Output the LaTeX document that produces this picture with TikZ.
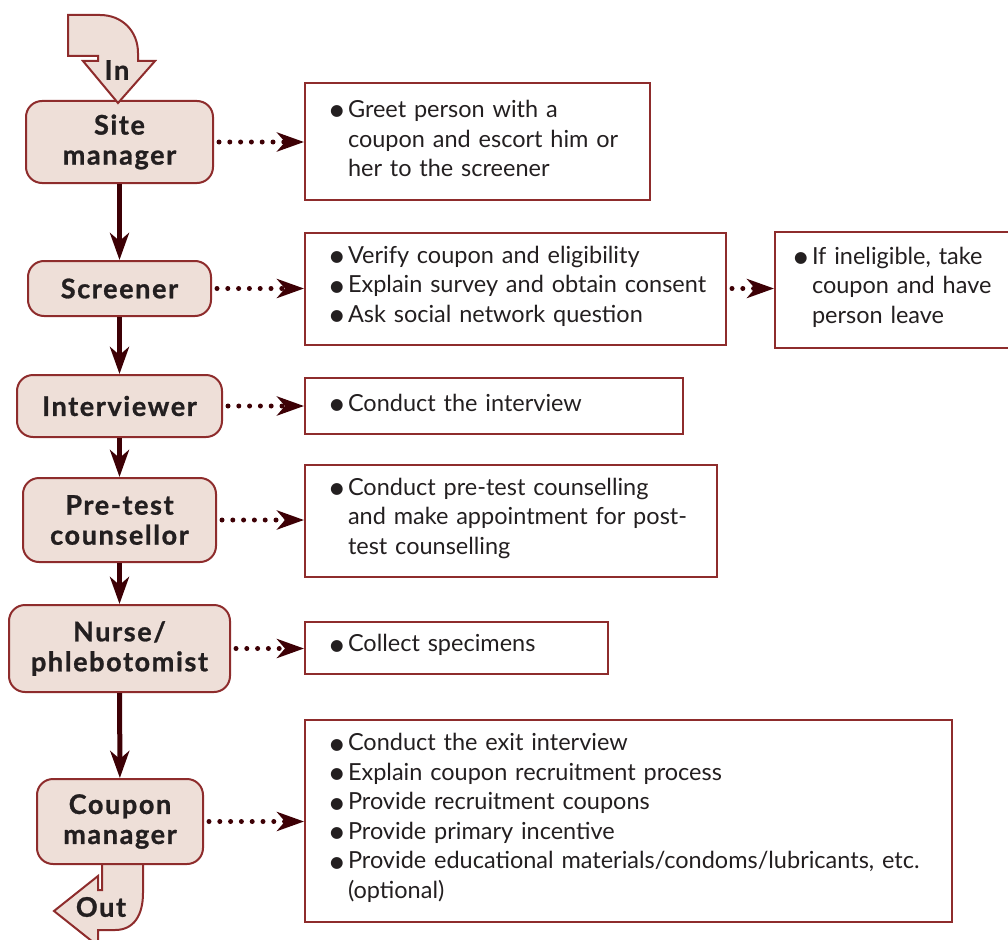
\documentclass[tikz,border=0pt]{standalone}
\usepackage{fontspec}
\setmainfont{Lato}
\newfontfamily\labelfont{Lato}[BoldFeatures={FakeBold=1}, LetterSpace=6]
\newfontfamily\symfont{DejaVu Sans}
\usetikzlibrary{arrows.meta}

\definecolor{boxfill}{HTML}{EEDFD8}
\definecolor{boxred}{HTML}{8E2C2C}
\definecolor{flowdark}{HTML}{3D0005}
\definecolor{inktext}{HTML}{231F20}

% filled round bullet for the task lists
\newcommand\itembul{\raisebox{1.6pt}{\symfont\fontsize{15.5}{15.5}\selectfont ●}}
% first line of a bulleted item, and its continuation lines
\newcommand\bitem[2][25pt]{\hspace*{#1}\makebox[18pt][l]{\itembul}\mbox{#2}}
\newcommand\bcont[2][43pt]{\hspace*{#1}\mbox{#2}}
% a little room under the last line lifts the lines inside their box
\newcommand\liftlines{\par\vspace*{6pt}}

\tikzset{
  role/.style={draw=boxred, line width=2pt, fill=boxfill, rounded corners=16pt,
    inner sep=0pt, align=center, text=inktext,
    font=\labelfont\bfseries\fontsize{27}{30}\selectfont},
  taskbox/.style={draw=boxred, line width=2pt, rectangle, inner xsep=0pt,
    inner ysep=0pt, align=left, text=inktext,
    font=\fontsize{23.5}{29.5}\selectfont},
  flowarrow/.style={draw=flowdark, line width=5pt,
    -{Stealth[length=27pt,width=19pt,inset=8pt]}, fill=flowdark},
  dotarrow/.style={draw=flowdark, line width=5pt, line cap=round,
    dash pattern=on 0pt off 10.8pt, shorten <=5pt,
    -{Stealth[length=27pt,width=19pt,inset=8pt]}},
  bendarrow/.style={draw=boxred, line width=2pt, fill=boxfill, line join=miter},
  arrowlabel/.style={text=inktext, font=\labelfont\bfseries\fontsize{27}{30}\selectfont}
}

\begin{document}
\begin{tikzpicture}[x=1pt, y=-1pt]
\useasboundingbox (0,0) rectangle (1008,939);
\clip (0,0) rectangle (1008,939);

% exit arrow leaving the last station (drawn under the box)
\draw[bendarrow] (102,860) -- (102,890) -- (98,890) -- (98,876) -- (54,911)
  -- (98,946) -- (98,930) -- (115,930)
  .. controls (134,930) and (143,915) .. (143,893) -- (143,860);
\node[arrowlabel] (outlbl) at (101,907) {Out};

% stations of the survey site
\node[role, minimum width=187pt, minimum height=82pt] (sm) at (119.5,142) {Site\\manager};
\node[role, minimum width=183pt, minimum height=55pt] (scr) at (119.5,288.5) {Screener};
\node[role, minimum width=205pt, minimum height=62pt] (int) at (119.5,406) {Interviewer};
\node[role, minimum width=193pt, minimum height=84pt] (pre) at (119.5,520) {Pre-test\\counsellor};
\node[role, minimum width=221pt, minimum height=87pt] (nur) at (119.5,648.5) {Nurse/\\phlebotomist};
\node[role, minimum width=166pt, minimum height=85pt] (cpm) at (120,821.5) {Coupon\\manager};

% entry arrow
\draw[bendarrow] (68,15) -- (100,15) .. controls (122,15) and (138,31) .. (138,53)
  -- (138,61) -- (155,61) -- (118,103) -- (83,61) -- (98,61) -- (98,56)
  -- (68,56) -- cycle;
\node[arrowlabel] (inlbl) at (117,70) {In};

% tasks at each station
\node[taskbox, text width=345pt, minimum height=117pt] (b1) at (477.5,141.5)
  {\bitem{Greet person with a}\\\bcont{coupon and escort him or}\\\bcont{her to the screener}\liftlines};
\node[taskbox, text width=421pt, minimum height=112pt] (b2) at (515.5,289)
  {\bitem{Verify coupon and eligibility}\\\bitem{Explain survey and obtain consent}\\\bitem{Ask social network question}\liftlines};
\node[taskbox, text width=240pt, minimum height=116pt] (b3) at (895,290)
  {\bitem[19pt]{If ineligible, take}\\\bcont[37pt]{coupon and have}\\\bcont[37pt]{person leave}\liftlines};
\node[taskbox, text width=378pt, minimum height=56pt] (b4) at (494,406)
  {\bitem{Conduct the interview}\liftlines};
\node[taskbox, text width=412pt, minimum height=112pt] (b5) at (511,521)
  {\bitem{Conduct pre-test counselling}\\\bcont{and make appointment for post-}\\\bcont{test counselling}\liftlines};
\node[taskbox, text width=303pt, minimum height=52pt] (b6) at (456.5,648)
  {\bitem{Collect specimens}\liftlines};
\node[taskbox, text width=647pt, minimum height=202pt] (b7) at (628.5,821)
  {\bitem{Conduct the exit interview}\\\bitem{Explain coupon recruitment process}\\\bitem{Provide recruitment coupons}\\\bitem{Provide primary incentive}\\\bitem{Provide educational materials/condoms/lubricants, etc.}\\\bcont{(optional)}\liftlines};

% flow between stations
\draw[flowarrow] (sm) -- (scr);
\draw[flowarrow] (scr) -- (int);
\draw[flowarrow] (int) -- (pre);
\draw[flowarrow] (pre) -- (nur);
\draw[flowarrow] (nur) -- (cpm);

% station to task links
\draw[dotarrow] (sm.east) -- (sm.east -| b1.west);
\draw[dotarrow] (scr.east) -- (scr.east -| b2.west);
\draw[dotarrow] (b2.east |- scr.east) -- (scr.east -| b3.west);
\draw[dotarrow] (int.east) -- (int.east -| b4.west);
\draw[dotarrow] (pre.east) -- (pre.east -| b5.west);
\draw[dotarrow] (nur.east) -- (nur.east -| b6.west);
\draw[dotarrow] (cpm.east) -- (cpm.east -| b7.west);
\end{tikzpicture}
\end{document}
